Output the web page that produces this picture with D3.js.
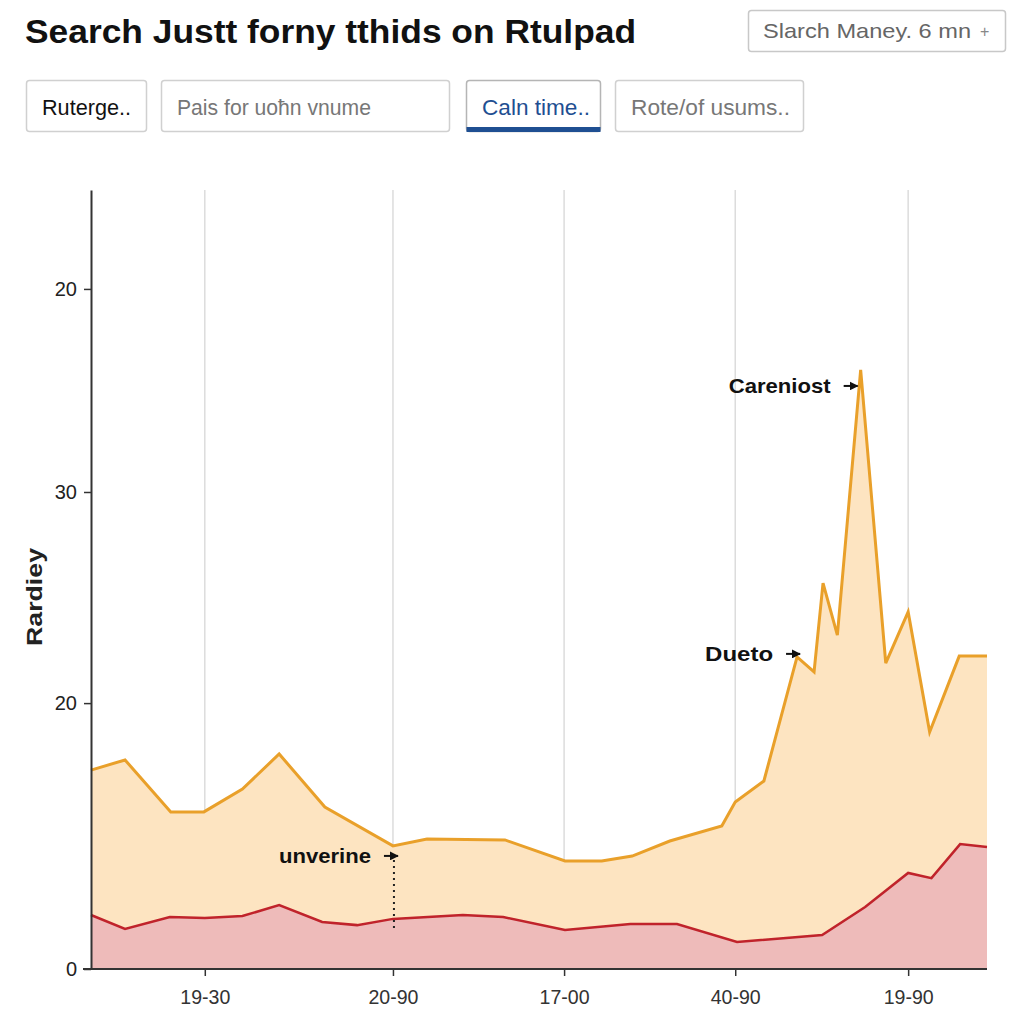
<!DOCTYPE html>
<html>
<head>
<meta charset="utf-8">
<script src="https://cdn.jsdelivr.net/npm/d3@7"></script>
<style>
  html, body { margin: 0; padding: 0; background: #fff; }
  svg { display: block; font-family: "Liberation Sans", Arial, Helvetica, sans-serif; }
</style>
</head>
<body>
<svg id="chart" width="1024" height="1024"></svg>
<script>
// ---- data ----
const titleText = "Search Justt forny tthids on Rtulpad";
const searchBoxText = "Slarch Maney. 6 mn";
const buttonLabels = ["Ruterge..", "Pais for uoħn vnume", "Caln time..", "Rote/of usums.."];
const yAxisLabel = "Rardiey";

const xTickValues = [12.7, 33.7, 52.8, 71.9, 91.2];
const xTickLabels = ["19-30", "20-90", "17-00", "40-90", "19-90"];
const yTickValues = [0, 10.24, 18.37, 26.19];
const yTickLabels = ["0", "20", "30", "20"];

const upperX = [0, 3.8, 8.9, 12.6, 16.9, 21.0, 26.1, 33.7, 37.5, 46.2, 52.9, 57.0, 60.4, 64.6, 70.4, 71.9, 75.1, 78.8, 80.7, 81.7, 83.3, 85.9, 88.7, 91.2, 93.6, 96.9, 100];
const upperY = [7.66, 8.05, 6.05, 6.05, 6.93, 8.28, 6.24, 4.74, 5.01, 4.97, 4.16, 4.16, 4.35, 4.93, 5.51, 6.43, 7.24, 12.02, 11.44, 14.86, 12.86, 23.07, 11.78, 13.75, 9.13, 12.05, 12.05];

const lowerX = [0, 3.8, 8.8, 12.7, 16.9, 21.0, 25.8, 29.7, 33.7, 41.5, 46.0, 52.9, 60.2, 65.4, 72.1, 81.6, 86.4, 91.2, 93.8, 97.0, 100];
const lowerY = [2.08, 1.54, 2.00, 1.96, 2.04, 2.46, 1.81, 1.69, 1.93, 2.08, 2.00, 1.50, 1.73, 1.73, 1.04, 1.31, 2.39, 3.70, 3.50, 4.81, 4.70];

const annotationLabels = ["Careniost", "Dueto", "unverine"];
const annotationIndex = [21, 17, 7]; // indices into upper series

// ---- drawing ----
const svg = d3.select("#chart");
svg.append("rect").attr("width", 1024).attr("height", 1024).attr("fill", "#fff");

const x = d3.scaleLinear().domain([0, 100]).range([91, 987]);
const y = d3.scaleLinear().domain([0, 30]).range([969, 190]);

// header
svg.append("text").attr("x", 25).attr("y", 43)
  .attr("font-size", 33).attr("font-weight", "bold").attr("fill", "#111")
  .attr("textLength", 611).attr("lengthAdjust", "spacingAndGlyphs")
  .text(titleText);

svg.append("rect").attr("x", 748.5).attr("y", 10.5).attr("width", 257).attr("height", 41)
  .attr("rx", 3).attr("fill", "#fff").attr("stroke", "#c8c8c8").attr("stroke-width", 1.5);
svg.append("text").attr("x", 763).attr("y", 38).attr("font-size", 21).attr("fill", "#666")
  .attr("textLength", 208).attr("lengthAdjust", "spacingAndGlyphs").text(searchBoxText);
svg.append("text").attr("x", 980).attr("y", 37).attr("font-size", 16).attr("fill", "#888").text("+");

const btnBoxes = [[26, 120], [161, 288], [466, 134], [615, 188]];
const btnTextW = [89, 194, 108, 159];
const btnColors = ["#111", "#777", "#1f4f92", "#777"];
buttonLabels.forEach((lab, i) => {
  const [bx, bw] = btnBoxes[i];
  svg.append("rect").attr("x", bx + 0.5).attr("y", 80.5).attr("width", bw).attr("height", 51)
    .attr("rx", 3).attr("fill", "#fff")
    .attr("stroke", i === 2 ? "#b5b5b5" : "#d0d0d0").attr("stroke-width", 1.5);
  if (i === 2) {
    svg.append("rect").attr("x", bx + 0.5).attr("y", 127).attr("width", bw).attr("height", 5)
      .attr("fill", "#1f4f92");
  }
  svg.append("text").attr("x", bx + 16).attr("y", 115).attr("font-size", 22)
    .attr("fill", btnColors[i]).attr("textLength", btnTextW[i]).attr("lengthAdjust", "spacingAndGlyphs")
    .text(lab);
});

// gridlines
svg.append("g").selectAll("line").data(xTickValues).join("line")
  .attr("x1", d => x(d)).attr("x2", d => x(d))
  .attr("y1", y(30)).attr("y2", y(0))
  .attr("stroke", "#dcdcdc").attr("stroke-width", 1.5);

const upper = upperX.map((v, i) => [v, upperY[i]]);
const lower = lowerX.map((v, i) => [v, lowerY[i]]);

const area = d3.area().x(d => x(d[0])).y0(y(0)).y1(d => y(d[1]));
const line = d3.line().x(d => x(d[0])).y(d => y(d[1]));

svg.append("path").datum(upper).attr("d", area).attr("fill", "#fde4c1");
svg.append("path").datum(upper).attr("d", line).attr("fill", "none")
  .attr("stroke", "#e9a02a").attr("stroke-width", 3).attr("stroke-linejoin", "miter");
svg.append("path").datum(lower).attr("d", area).attr("fill", "#eebbba");
svg.append("path").datum(lower).attr("d", line).attr("fill", "none")
  .attr("stroke", "#c0232b").attr("stroke-width", 2.5);

// axes
const yAxis = d3.axisLeft(y).tickValues(yTickValues).tickFormat((d, i) => yTickLabels[i])
  .tickSize(7).tickSizeOuter(0).tickPadding(7);
const gy = svg.append("g").attr("transform", "translate(91,0)").call(yAxis);
gy.select(".domain").attr("stroke", "#333").attr("stroke-width", 2);
gy.selectAll(".tick line").attr("stroke", "#333").attr("stroke-width", 1.5);
gy.selectAll(".tick text").attr("font-size", 20).attr("fill", "#222")
  .attr("font-family", "'Liberation Sans', Arial, sans-serif");

const xAxis = d3.axisBottom(x).tickValues(xTickValues).tickFormat((d, i) => xTickLabels[i])
  .tickSize(7).tickSizeOuter(0).tickPadding(14);
const gx = svg.append("g").attr("transform", "translate(0,969)").call(xAxis);
gx.select(".domain").attr("stroke", "#333").attr("stroke-width", 2).attr("d", "M83,0H987");
gx.selectAll(".tick line").attr("stroke", "#333").attr("stroke-width", 1.5);
gx.selectAll(".tick text").attr("font-size", 20).attr("fill", "#333")
  .attr("font-family", "'Liberation Sans', Arial, sans-serif")
  .attr("textLength", 50).attr("lengthAdjust", "spacingAndGlyphs");

// y axis label
svg.append("text").attr("transform", "translate(42,597) rotate(-90)")
  .attr("text-anchor", "middle").attr("font-size", 22).attr("font-weight", "bold")
  .attr("fill", "#222").attr("textLength", 98).attr("lengthAdjust", "spacingAndGlyphs")
  .text(yAxisLabel);

// annotations
svg.append("defs").append("marker").attr("id", "arr")
  .attr("viewBox", "0 0 10 10").attr("refX", 9).attr("refY", 5)
  .attr("markerWidth", 4.5).attr("markerHeight", 4.5).attr("orient", "auto")
  .append("path").attr("d", "M0,0L10,5L0,10z").attr("fill", "#111");

const annOffsets = [[-3, 16], [3, -3], [5, 10]]; // arrow tip offset from data point
const annTextW = [102, 68, 92];
annotationLabels.forEach((lab, i) => {
  const p = upper[annotationIndex[i]];
  const tx = x(p[0]) + annOffsets[i][0];
  const ty = y(p[1]) + annOffsets[i][1];
  svg.append("line").attr("x1", tx - 14).attr("x2", tx).attr("y1", ty).attr("y2", ty)
    .attr("stroke", "#111").attr("stroke-width", 2).attr("marker-end", "url(#arr)");
  svg.append("text").attr("x", tx - 27).attr("y", ty + 7).attr("text-anchor", "end")
    .attr("font-size", 21).attr("font-weight", "bold").attr("fill", "#111")
    .attr("textLength", annTextW[i]).attr("lengthAdjust", "spacingAndGlyphs").text(lab);
  if (i === 2) {
    svg.append("line").attr("x1", tx - 4).attr("x2", tx - 4).attr("y1", ty + 4).attr("y2", ty + 72)
      .attr("stroke", "#222").attr("stroke-width", 2).attr("stroke-dasharray", "2,4");
  }
});
</script>
</body>
</html>
